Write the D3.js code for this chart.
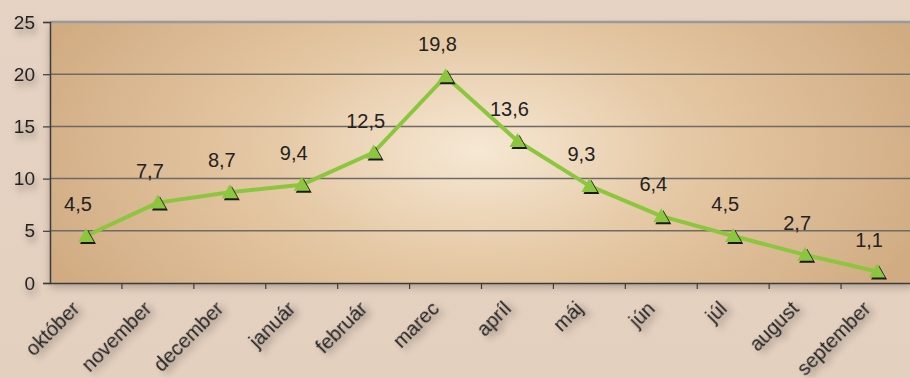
<!DOCTYPE html>
<html>
<head>
<meta charset="utf-8">
<script src="https://cdn.jsdelivr.net/npm/d3@7"></script>
<style>
  body { margin: 0; background: #e5d2c1; }
  svg { display: block; font-family: "Liberation Sans", Arial, sans-serif; }
</style>
</head>
<body>
<div id="main"></div>
<script>
// **** data ****
var months = ["október", "november", "december", "január", "február", "marec",
              "apríl", "máj", "jún", "júl", "august", "september"];
var values = [4.5, 7.7, 8.7, 9.4, 12.5, 19.8, 13.6, 9.3, 6.4, 4.5, 2.7, 1.1];
var yTicks = [0, 5, 10, 15, 20, 25];

var W = 910, H = 378;
var margin = {top: 22, right: -3, bottom: 95, left: 50};
var width = W - margin.left - margin.right,
    height = H - margin.top - margin.bottom;

var svg = d3.select("#main").append("svg")
    .attr("width", W).attr("height", H);

var defs = svg.append("defs");

var bg = defs.append("linearGradient").attr("id", "outer")
    .attr("x1", 0).attr("y1", 0).attr("x2", 0).attr("y2", 1);
bg.append("stop").attr("offset", 0).attr("stop-color", "#e6d3c3");
bg.append("stop").attr("offset", 1).attr("stop-color", "#e4d0bf");

var cx0 = 478 - margin.left, cy0 = 150 - margin.top;
var rg = defs.append("radialGradient").attr("id", "plotbg")
    .attr("gradientUnits", "userSpaceOnUse")
    .attr("cx", cx0).attr("cy", cy0).attr("r", 470)
    .attr("gradientTransform", "translate(" + cx0 + "," + cy0 + ") scale(1,0.55) translate(" + -cx0 + "," + -cy0 + ")");
rg.append("stop").attr("offset", 0).attr("stop-color", "#f6e8d4");
rg.append("stop").attr("offset", 0.45).attr("stop-color", "#e5c8a4");
rg.append("stop").attr("offset", 1).attr("stop-color", "#d1ac83");

var sh = defs.append("filter").attr("id", "tshadow")
    .attr("x", "-50%").attr("y", "-50%").attr("width", "200%").attr("height", "200%");
sh.append("feDropShadow").attr("dx", 2).attr("dy", 5).attr("stdDeviation", 3.5)
    .attr("flood-color", "#000").attr("flood-opacity", 0.4);

var psh = defs.append("filter").attr("id", "pshadow")
    .attr("x", "-5%").attr("y", "-5%").attr("width", "110%").attr("height", "120%");
psh.append("feDropShadow").attr("dx", 0).attr("dy", 4).attr("stdDeviation", 4)
    .attr("flood-color", "#000").attr("flood-opacity", 0.25);

svg.append("rect").attr("width", W).attr("height", H).attr("fill", "url(#outer)");

var g = svg.append("g")
    .attr("transform", "translate(" + margin.left + "," + margin.top + ")");

// **** scales ****
var x = d3.scaleBand().domain(months).range([0, width]);
var y = d3.scaleLinear().domain([0, 25]).range([height, 0]);

g.append("rect")
    .attr("width", width).attr("height", height)
    .attr("fill", "url(#plotbg)")
    .attr("filter", "url(#pshadow)");

// gridlines
g.selectAll(".grid").data(yTicks.filter(function(d){ return d > 0; }))
  .enter().append("line")
    .attr("x1", 0).attr("x2", width)
    .attr("y1", function(d){ return y(d); })
    .attr("y2", function(d){ return y(d); })
    .attr("stroke", function(d){ return d == 25 ? "#9a9a9a" : "#6e6a66"; })
    .attr("stroke-width", function(d){ return d == 25 ? 2.5 : 1.5; });

// y axis
var yAxis = g.append("g")
    .call(d3.axisLeft(y).tickValues(yTicks).tickSize(7).tickPadding(8));
yAxis.select(".domain").attr("stroke", "#3c3c3c").attr("stroke-width", 1.5);
yAxis.selectAll(".tick line").attr("stroke", "#3c3c3c").attr("stroke-width", 1.2);
yAxis.selectAll("text")
    .style("font-size", "19px").attr("fill", "#222")
    .attr("filter", "url(#tshadow)");

// x axis
var xAxis = g.append("g")
    .attr("transform", "translate(0," + height + ")")
    .call(d3.axisBottom(x).tickSize(0).tickFormat(""));
xAxis.select(".domain").attr("stroke", "#3c3c3c").attr("stroke-width", 1.5);

g.selectAll(".xtick").data(months.slice(1))
  .enter().append("line")
    .attr("x1", function(d){ return x(d); })
    .attr("x2", function(d){ return x(d); })
    .attr("y1", height).attr("y2", height + 6)
    .attr("stroke", "#3c3c3c").attr("stroke-width", 1.2);

g.selectAll(".xlabel").data(months)
  .enter().append("text")
    .attr("transform", function(d){
      return "translate(" + (x(d) + x.bandwidth() / 2 - 15) + "," + (height + 17) + ") rotate(-45)"; })
    .attr("text-anchor", "end")
    .attr("dy", "0.7em")
    .style("font-size", "20px")
    .attr("fill", "#222")
    .attr("filter", "url(#tshadow)")
    .text(function(d){ return d; });

// line
var line = d3.line()
    .x(function(d, i){ return x(months[i]) + x.bandwidth() / 2; })
    .y(function(d){ return y(d); });

g.append("path").datum(values)
    .attr("d", line)
    .attr("fill", "none")
    .attr("stroke", "#8cc63f")
    .attr("stroke-width", 4)
    .attr("stroke-linejoin", "round");

// markers
var tri = "M0,-8 L8,6 L-8,6 Z";
g.selectAll(".mshadow").data(values)
  .enter().append("path")
    .attr("d", tri)
    .attr("transform", function(d, i){
      return "translate(" + (x(months[i]) + x.bandwidth() / 2 + 2) + "," + (y(d) + 2) + ")"; })
    .attr("fill", "#1a1a1a");
g.selectAll(".marker").data(values)
  .enter().append("path")
    .attr("d", tri)
    .attr("transform", function(d, i){
      return "translate(" + (x(months[i]) + x.bandwidth() / 2) + "," + y(d) + ")"; })
    .attr("fill", "#8cc63f");

// data labels
g.selectAll(".dlabel").data(values)
  .enter().append("text")
    .attr("x", function(d, i){ return x(months[i]) + x.bandwidth() / 2 - 8; })
    .attr("y", function(d){ return y(d) - 32; })
    .attr("dy", "0.35em")
    .attr("text-anchor", "middle")
    .style("font-size", "20px")
    .attr("fill", "#222")
    .text(function(d){ return String(d).replace(".", ","); });
</script>
</body>
</html>
